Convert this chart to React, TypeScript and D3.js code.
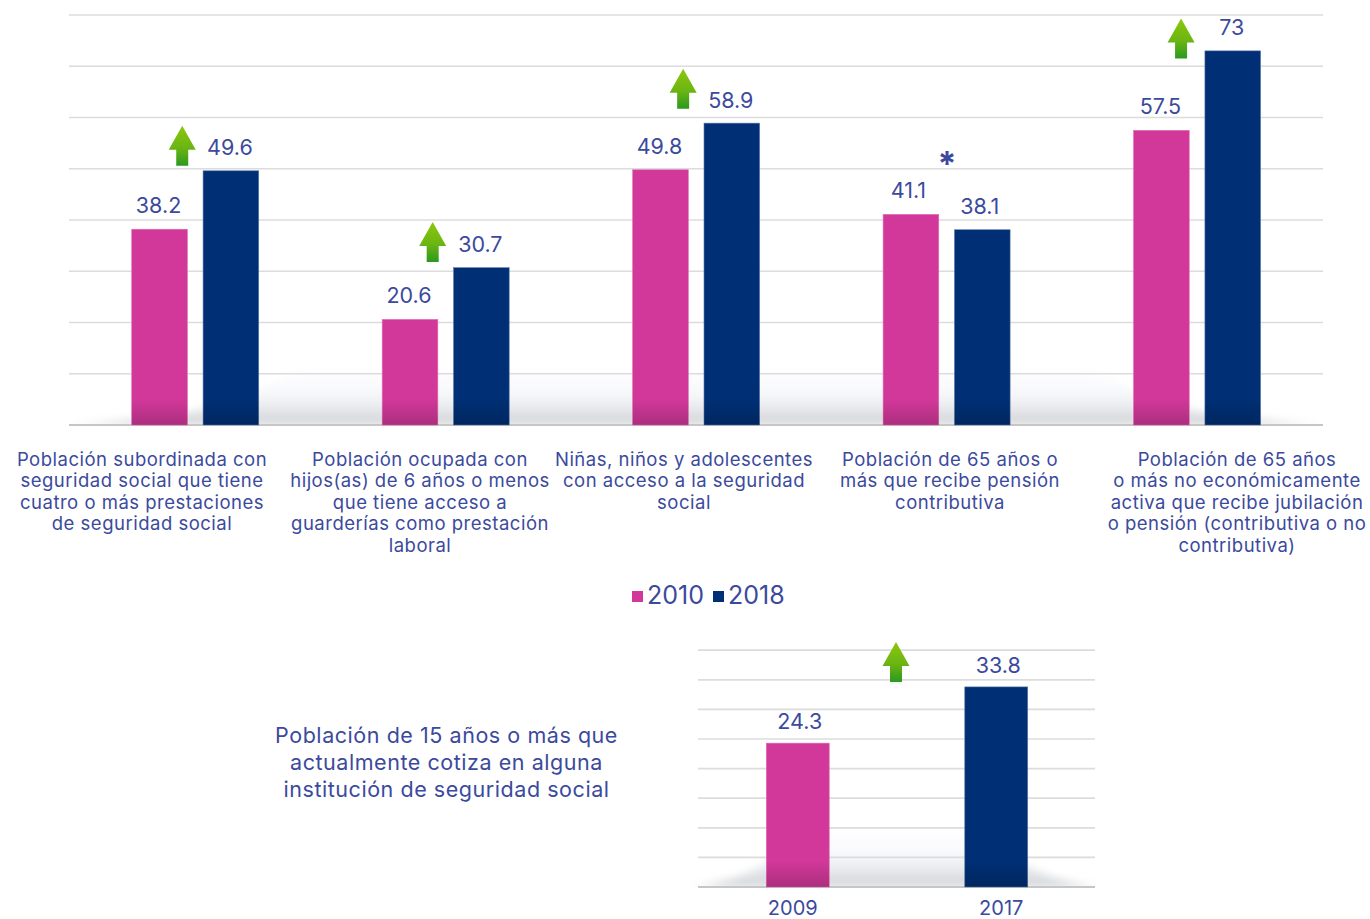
import React from "react";
import * as d3 from "d3";

const categories = ["sub", "hijos", "nna", "pc", "jub"];
const labelLines = [
  ["Población subordinada con", "seguridad social que tiene", "cuatro o más prestaciones", "de seguridad social"],
  ["Población ocupada con", "hijos(as) de 6 años o menos", "que tiene acceso a", "guarderías como prestación", "laboral"],
  ["Niñas, niños y adolescentes", "con acceso a la seguridad", "social"],
  ["Población de 65 años o", "más que recibe pensión", "contributiva"],
  ["Población de 65 años", "o más no económicamente", "activa que recibe jubilación", "o pensión (contributiva o no", "contributiva)"],
];
const values2010 = [38.2, 20.6, 49.8, 41.1, 57.5];
const values2018 = [49.6, 30.7, 58.9, 38.1, 73];
const arrowLevels = [58.4, 39.6, 69.5, null, 79.3];
const years = ["2010", "2018"];
const mainTicks = [0, 10, 20, 30, 40, 50, 60, 70, 80];

const smallYears = ["2009", "2017"];
const smallValues = [24.3, 33.8];
const smallTicks = [0, 5, 10, 15, 20, 25, 30, 35, 40];
const smallArrowLevel = 41.4;
const smallTitle = ["Población de 15 años o más que", "actualmente cotiza en alguna", "institución de seguridad social"];

const PINK = "#d2389a";
const NAVY = "#002f75";
const TEXT = "#3b4a9d";
const GRID = "#dcdcdc";
const FONT = "'Inter', 'Lato', sans-serif";

const y = d3.scaleLinear().domain([0, 80]).range([425, 15]);
const x0 = d3.scaleBand<string>().domain(categories).range([70, 1322.3]);
const x1 = d3.scaleBand<string>().domain(years).range([-63.5, 63.5]).paddingInner(0.22);
const y2 = d3.scaleLinear().domain([0, 40]).range([887, 650.2]);
const x2 = d3.scaleBand<string>().domain(smallYears).range([698.5, 1095.5]).paddingInner(0.683).paddingOuter(0.3415);

function Arrow({ cx, top, id }: { cx: number; top: number; id: string }) {
  const d = d3.line()([
    [cx, top], [cx + 13.5, top + 24], [cx + 6, top + 24], [cx + 6, top + 40],
    [cx - 6, top + 40], [cx - 6, top + 24], [cx - 13.5, top + 24],
  ]) + "Z";
  return <path d={d} fill={`url(#${id})`} />;
}

function Floor({ a, b, base, h, rise, id, clip }: any) {
  const d = `M${a},${base} Q${a + rise * 0.7},${base - h * 0.12} ${a + rise},${base - h * 0.45} L${a + rise * 1.4},${base - h} L${b - rise * 1.4},${base - h} L${b - rise},${base - h * 0.45} Q${b - rise * 0.7},${base - h * 0.12} ${b},${base} Z`;
  return (
    <g clipPath={`url(#${clip})`}>
      <path d={d} fill={`url(#${id})`} filter="url(#soft)" />
    </g>
  );
}

function Bar({ x, w, top, base, color, shade }: any) {
  return (
    <g>
      <rect x={x} y={top} width={w} height={base - top} fill={color} stroke={color === PINK ? "#e06cb6" : "#5b7ba8"} strokeWidth={0.6} />
      <rect x={x} y={base - 26} width={w} height={26} fill={`url(#${shade})`} />
    </g>
  );
}

export default function App() {
  const t = { fontFamily: FONT, fill: TEXT };
  const arrowId = "arrowGrad";
  return (
    <svg width={1370} height={919} style={{ position: "absolute", left: 0, top: 0, background: "#fff" }}>
      <defs>
        <linearGradient id={arrowId} x1="0" x2="0" y1="0" y2="1">
          <stop offset="0" stopColor="#8cc70c" />
          <stop offset="0.55" stopColor="#6bb513" />
          <stop offset="1" stopColor="#2b991f" />
        </linearGradient>
        <linearGradient id="floorGrad" x1="0" x2="0" y1="0" y2="1">
          <stop offset="0" stopColor="#f5f7fb" stopOpacity="0" />
          <stop offset="0.3" stopColor="#f9fafc" stopOpacity="0.8" />
          <stop offset="0.55" stopColor="#f3f4f7" />
          <stop offset="0.8" stopColor="#e0e2e5" />
          <stop offset="1" stopColor="#cfd2d5" />
        </linearGradient>
        <linearGradient id="barShade" x1="0" x2="0" y1="0" y2="1">
          <stop offset="0" stopColor="#000" stopOpacity="0" />
          <stop offset="1" stopColor="#000" stopOpacity="0.18" />
        </linearGradient>
        <filter id="soft" x="-5%" y="-20%" width="110%" height="140%">
          <feGaussianBlur stdDeviation="4" />
        </filter>
        <clipPath id="clipMain"><rect x={60} y={340} width={1275} height={85} /></clipPath>
        <clipPath id="clipSmall"><rect x={690} y={800} width={415} height={87} /></clipPath>
      </defs>

      <Floor a={69} b={1323} base={y(0)} h={58} rise={170} id="floorGrad" clip="clipMain" />
      {mainTicks.map((v) => (
        <line key={v} x1={69} x2={1323} y1={y(v)} y2={y(v)} stroke={v === 0 ? "#c6c6c6" : GRID} strokeWidth={v === 0 ? 2 : 1.7} />
      ))}

      {categories.map((c, i) => {
        const gx = x0(c)! + x0.bandwidth() / 2;
        const w = x1.bandwidth();
        const xa = gx + x1("2010")!;
        const xb = gx + x1("2018")!;
        const level = arrowLevels[i];
        return (
          <g key={c}>
            <Bar x={xa} w={w} top={y(values2010[i])} base={y(0)} color={PINK} shade="barShade" />
            <Bar x={xb} w={w} top={y(values2018[i])} base={y(0)} color={NAVY} shade="barShade" />
            <text x={xa + w / 2 - 1 - (i === 3 ? 1.5 : 0)} y={y(values2010[i]) - 16} textAnchor="middle" fontSize={21.5} {...t}>{values2010[i]}</text>
            <text x={xb + w / 2 - 1 - (i === 3 ? 1.5 : 0)} y={y(values2018[i]) - 15.5} textAnchor="middle" fontSize={21.5} {...t}>{values2018[i]}</text>
            {level !== null && <Arrow cx={gx + (i === 4 ? -16 : -13)} top={y(level)} id={arrowId} />}
          </g>
        );
      })}
      <text x={947} y={176} textAnchor="middle" fontSize={34} {...t} fontWeight={700}>*</text>

      {labelLines.map((lines, i) => {
        const cxs = [142, 420, 684, 950, 1237];
        return lines.map((s, j) => (
          <text key={s} x={cxs[i]} y={465.5 + j * 21.5} textAnchor="middle" fontSize={18.5} letterSpacing={0.5} {...t}>{s}</text>
        ));
      })}

      <rect x={632} y={591} width={11} height={11} fill={PINK} />
      <text x={647} y={604} fontSize={25} {...t}>{years[0]}</text>
      <rect x={713} y={591} width={11} height={11} fill={NAVY} />
      <text x={728} y={604} fontSize={25} {...t}>{years[1]}</text>

      {smallTitle.map((s, j) => (
        <text key={s} x={446.5} y={743 + j * 27} textAnchor="middle" fontSize={21.5} letterSpacing={0.55} {...t}>{s}</text>
      ))}

      <Floor a={692} b={1097} base={y2(0)} h={58} rise={75} id="floorGrad" clip="clipSmall" />
      {smallTicks.map((v) => (
        <line key={v} x1={698} x2={1095} y1={y2(v)} y2={y2(v)} stroke={v === 0 ? "#c6c6c6" : GRID} strokeWidth={v === 0 ? 2 : 1.7} />
      ))}
      {smallYears.map((yr, i) => {
        const bx = x2(yr)!;
        const w = x2.bandwidth();
        return (
          <g key={yr}>
            <Bar x={bx} w={w} top={y2(smallValues[i])} base={y2(0)} color={i ? NAVY : PINK} shade="barShade" />
            <text x={bx + w / 2 + 2} y={y2(smallValues[i]) - 14} textAnchor="middle" fontSize={21.5} {...t}>{smallValues[i]}</text>
            <text x={bx + w / 2 + (i ? 5 : -5)} y={914.5} textAnchor="middle" fontSize={20} {...t}>{yr}</text>
          </g>
        );
      })}
      <Arrow cx={896} top={y2(smallArrowLevel)} id={arrowId} />
    </svg>
  );
}
